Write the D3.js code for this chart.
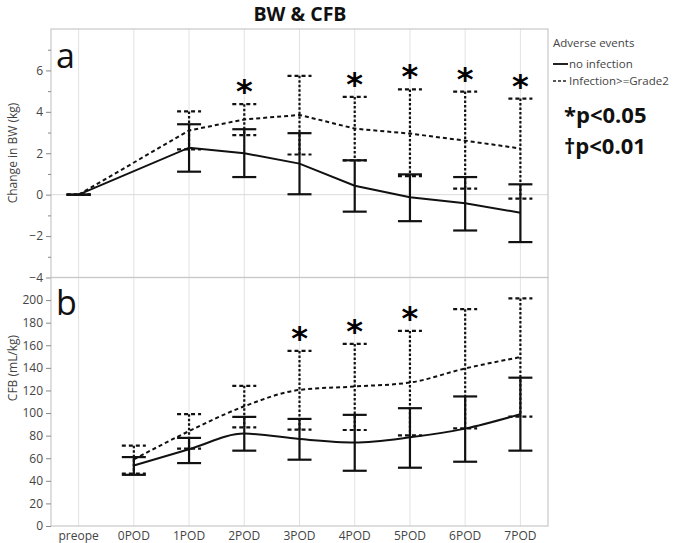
<!DOCTYPE html>
<html>
<head>
<meta charset="utf-8">
<script src="https://cdn.jsdelivr.net/npm/d3@7"></script>
<style>
  html, body { margin: 0; padding: 0; background: #fff; }
  svg { display: block; }
</style>
</head>
<body>
<svg id="chart" width="685" height="543"></svg>
<script>
// ---------- data ----------
const categories = ["preope","0POD","1POD","2POD","3POD","4POD","5POD","6POD","7POD"];

// Panel a: Change in BW (kg)
const bwNoInfMean = [0, null, 2.27, 2.00, 1.50, 0.43, -0.12, -0.42, -0.87];
const bwNoInfHi   = [0, null, 3.40, 3.16, 2.97, 1.66, 0.98, 0.85, 0.50];
const bwNoInfLo   = [0, null, 1.11, 0.85, 0.02, -0.82, -1.28, -1.73, -2.29];
const bwInfMean   = [0, null, 3.10, 3.63, 3.85, 3.19, 2.95, 2.61, 2.23];
const bwInfHi     = [0, null, 4.02, 4.37, 5.74, 4.72, 5.08, 4.98, 4.64];
const bwInfLo     = [0, null, 2.19, 2.88, 1.94, 1.66, 0.90, 0.29, -0.19];
const bwSig       = ["2POD","4POD","5POD","6POD","7POD"];

// Panel b: CFB (mL/kg)
const cfbNoInfMean = [null, 53.6, 68.0, 81.8, 77.0, 74.0, 78.5, 86.2, 99.0];
const cfbNoInfHi   = [null, 61.0, 78.0, 96.6, 94.8, 98.4, 104.3, 114.7, 131.3];
const cfbNoInfLo   = [null, 45.3, 55.7, 66.7, 58.7, 48.9, 51.6, 56.9, 66.7];
const cfbInfMean   = [null, 59.0, 84.0, 106.0, 120.5, 123.5, 127.0, 139.5, 149.5];
const cfbInfHi     = [null, 71.1, 99.0, 124.1, 155.0, 161.2, 172.7, 192.0, 201.5];
const cfbInfLo     = [null, 46.5, 68.5, 87.4, 85.3, 85.0, 80.3, 86.5, 96.9];
const cfbSig       = ["3POD","4POD","5POD"];

const bwTicks  = [-4, -2, 0, 2, 4, 6];
const bwMinor  = [-3, -1, 1, 3, 5, 7];
const cfbTicks = [0, 20, 40, 60, 80, 100, 120, 140, 160, 180, 200];

const legendTitle = "Adverse events";
const legendItems = ["no infection", "Infection>=Grade2"];
const pNotes = ["*p<0.05", "\u2020p<0.01"];

// ---------- layout ----------
const svg = d3.select("#chart");
const L = 51, R = 548, T = 29, MID = 277.5, B = 526;
const tickFont = "'Open Sans', 'DejaVu Sans', sans-serif";

const x = d3.scalePoint().domain(categories).range([L, R]).padding(0.5);
const ya = d3.scaleLinear().domain([-4, 8]).range([MID, T]);
const yb = d3.scaleLinear().domain([0, 220]).range([B, MID]);

// title
svg.append("text").attr("x", 300).attr("y", 21).attr("text-anchor", "middle")
  .attr("font-family", "'Open Sans', sans-serif").attr("font-weight", "bold")
  .attr("font-size", 19.5).attr("fill", "#111").text("BW & CFB");

function panel(y, top, bottom, opts) {
  const g = svg.append("g");
  // vertical grid lines
  g.selectAll("line.vg").data(categories).enter().append("line")
    .attr("x1", d => x(d)).attr("x2", d => x(d))
    .attr("y1", top).attr("y2", bottom)
    .attr("stroke", "#e2e2e2").attr("stroke-width", 1);
  if (opts.zeroLine) {
    g.append("line").attr("x1", L).attr("x2", R).attr("y1", y(0)).attr("y2", y(0))
      .attr("stroke", "#dadada").attr("stroke-width", 1);
  }
  // frame
  g.append("rect").attr("x", L).attr("y", top).attr("width", R - L).attr("height", bottom - top)
    .attr("fill", "none").attr("stroke", "#c8c8c8").attr("stroke-width", 1.2);

  // y axis
  const ax = g.append("g").attr("transform", `translate(${L},0)`)
    .call(d3.axisLeft(y).tickValues(opts.ticks).tickSize(5).tickPadding(3).tickFormat(d3.format("d")));
  ax.select(".domain").remove();
  ax.selectAll(".tick line").attr("stroke", "#888");
  ax.selectAll(".tick text").attr("font-family", tickFont).attr("font-size", 12).attr("fill", "#444");
  if (opts.minor) {
    const mx = g.append("g").attr("transform", `translate(${L},0)`)
      .call(d3.axisLeft(y).tickValues(opts.minor).tickSize(3).tickFormat(""));
    mx.select(".domain").remove();
    mx.selectAll(".tick line").attr("stroke", "#888");
  }

  // y label
  g.append("text")
    .attr("transform", `translate(17,${opts.labelY}) rotate(-90)`)
    .attr("text-anchor", "middle").attr("font-family", tickFont).attr("font-size", 12)
    .attr("fill", "#444").text(opts.label);

  // panel letter
  g.append("text").attr("x", 56).attr("y", opts.letterY)
    .attr("font-family", "'Open Sans', sans-serif").attr("font-size", 34).attr("fill", "#111")
    .text(opts.letter);

  const series = [
    { mean: opts.infMean, hi: opts.infHi, lo: opts.infLo, dash: "4,3", vdash: "2.5,2", cdash: "4,3" },
    { mean: opts.noMean, hi: opts.noHi, lo: opts.noLo, dash: null, vdash: null, cdash: null }
  ];
  const capW = 12;
  series.forEach(s => {
    const pts = categories.map((c, i) => ({ c, m: s.mean[i], h: s.hi[i], l: s.lo[i] }))
      .filter(d => d.m !== null);
    // line
    const line = d3.line().x(d => x(d.c)).y(d => y(d.m)).curve(opts.curve);
    g.append("path").attr("d", line(pts)).attr("fill", "none").attr("stroke", "#111")
      .attr("stroke-width", 2).attr("stroke-dasharray", s.dash);
    // error bars
    const eb = g.append("g");
    eb.selectAll("line.v").data(pts).enter().append("line")
      .attr("x1", d => x(d.c)).attr("x2", d => x(d.c))
      .attr("y1", d => y(d.h)).attr("y2", d => y(d.l))
      .attr("stroke", "#111").attr("stroke-width", 2.2).attr("stroke-dasharray", s.vdash);
    ["h", "l"].forEach(k => {
      eb.selectAll("line.c" + k).data(pts).enter().append("line")
        .attr("x1", d => x(d.c) - capW).attr("x2", d => x(d.c) + capW)
        .attr("y1", d => y(d[k])).attr("y2", d => y(d[k]))
        .attr("stroke", "#111").attr("stroke-width", 2.2).attr("stroke-dasharray", s.cdash);
    });
  });

  // significance asterisks
  g.selectAll("text.sig").data(opts.sig).enter().append("text")
    .attr("x", d => x(d)).attr("y", d => y(opts.infHi[categories.indexOf(d)]) - 2)
    .attr("text-anchor", "middle").attr("font-family", "'DejaVu Sans', sans-serif")
    .attr("font-weight", "bold").attr("font-size", 32).attr("fill", "#000").text("*");
}

panel(ya, T, MID, {
  ticks: bwTicks, minor: bwMinor, zeroLine: true, label: "Change in BW (kg)", labelY: 153,
  letter: "a", letterY: 68, curve: d3.curveLinear,
  noMean: bwNoInfMean, noHi: bwNoInfHi, noLo: bwNoInfLo,
  infMean: bwInfMean, infHi: bwInfHi, infLo: bwInfLo, sig: bwSig
});
panel(yb, MID, B, {
  ticks: cfbTicks, minor: null, zeroLine: false, label: "CFB (mL/kg)", labelY: 368,
  letter: "b", letterY: 315, curve: d3.curveMonotoneX,
  noMean: cfbNoInfMean, noHi: cfbNoInfHi, noLo: cfbNoInfLo,
  infMean: cfbInfMean, infHi: cfbInfHi, infLo: cfbInfLo, sig: cfbSig
});

// x axis labels
svg.append("g").selectAll("text").data(categories).enter().append("text")
  .attr("x", d => x(d)).attr("y", 540).attr("text-anchor", "middle")
  .attr("font-family", tickFont).attr("font-size", 12).attr("fill", "#444").text(d => d);

// legend
const lg = svg.append("g");
lg.append("text").attr("x", 553).attr("y", 47).attr("font-family", tickFont)
  .attr("font-size", 11.5).attr("fill", "#444").text(legendTitle);
legendItems.forEach((t, i) => {
  const yy = 68 + i * 17;
  lg.append("line").attr("x1", 553).attr("x2", 568).attr("y1", yy - 4).attr("y2", yy - 4)
    .attr("stroke", "#222").attr("stroke-width", i === 0 ? 2 : 1.6)
    .attr("stroke-dasharray", i === 0 ? null : "3,2");
  lg.append("text").attr("x", 569).attr("y", yy).attr("font-family", tickFont)
    .attr("font-size", 11.5).attr("fill", "#444").text(t);
});
pNotes.forEach((t, i) => {
  lg.append("text").attr("x", 564).attr("y", 123 + i * 31)
    .attr("font-family", "'Open Sans', sans-serif").attr("font-weight", "bold")
    .attr("font-size", 22).attr("fill", "#111").text(t);
});
</script>
</body>
</html>
